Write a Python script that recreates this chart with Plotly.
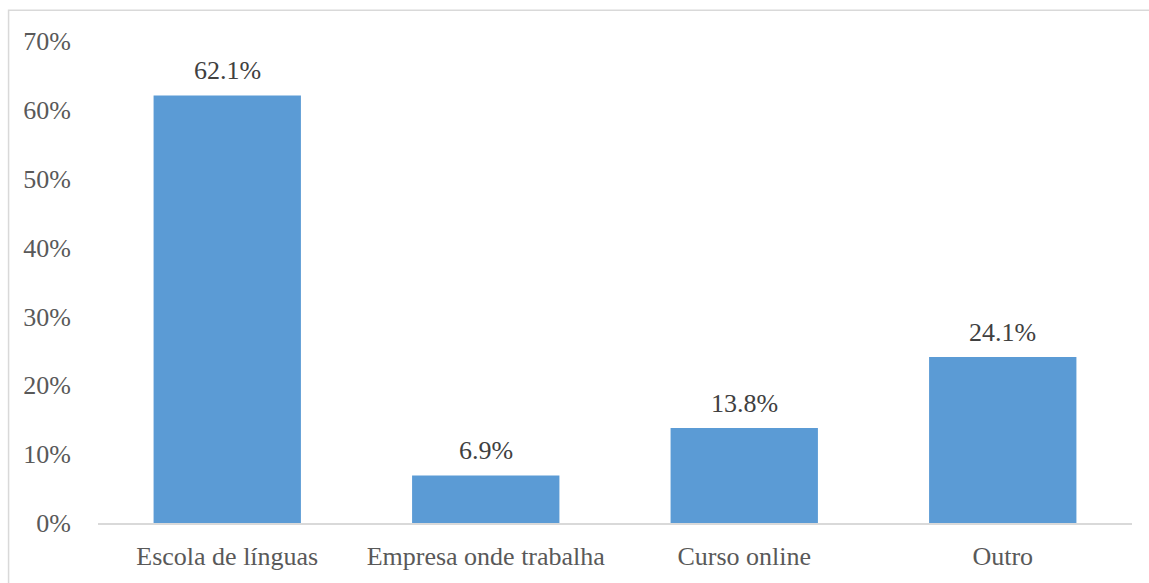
import plotly.graph_objects as go

categories = ["Escola de línguas", "Empresa onde trabalha", "Curso online", "Outro"]
shares = [62.1, 6.9, 13.8, 24.1]
y_ticks = [0, 10, 20, 30, 40, 50, 60, 70]
y_tick_labels = [f"{t}%" for t in y_ticks]

BAR_COLOR = "#5B9BD5"
FONT = '"Liberation Serif", "Times New Roman", serif'
SIZE = 26

fig = go.Figure(
    go.Bar(
        x=categories,
        y=shares,
        marker=dict(color=BAR_COLOR, line=dict(width=0)),
        hoverinfo="skip",
    )
)

# value labels above each bar
for cat, val in zip(categories, shares):
    fig.add_annotation(
        x=cat, y=val, text=f"{val:.1f}%",
        showarrow=False, yanchor="bottom", yshift=8,
        font=dict(family=FONT, size=SIZE, color="#404040"),
    )

# light frame around the chart area
fig.add_shape(
    type="rect", xref="paper", yref="paper",
    x0=-0.0865, x1=1.2, y0=-0.3, y1=1.064,
    line=dict(color="#D9D9D9", width=1.5), fillcolor="rgba(0,0,0,0)", layer="below",
)

fig.update_layout(
    width=1149, height=583,
    margin=dict(l=98, r=17, t=41, b=58),
    paper_bgcolor="white", plot_bgcolor="white",
    bargap=0.43,
    showlegend=False,
    font=dict(family=FONT, size=SIZE, color="#595959"),
    xaxis=dict(
        showline=True, linecolor="#D9D9D9", linewidth=1.5,
        showgrid=False, ticks="", ticklabelstandoff=9,
        tickfont=dict(family=FONT, size=SIZE, color="#595959"),
    ),
    yaxis=dict(
        range=[0, 70], tickmode="array", tickvals=y_ticks, ticktext=y_tick_labels,
        showline=False, showgrid=False, zeroline=False, ticks="",
        ticklabelstandoff=26,
        tickfont=dict(family=FONT, size=SIZE, color="#595959"),
    ),
)

fig.write_html("out.html")
